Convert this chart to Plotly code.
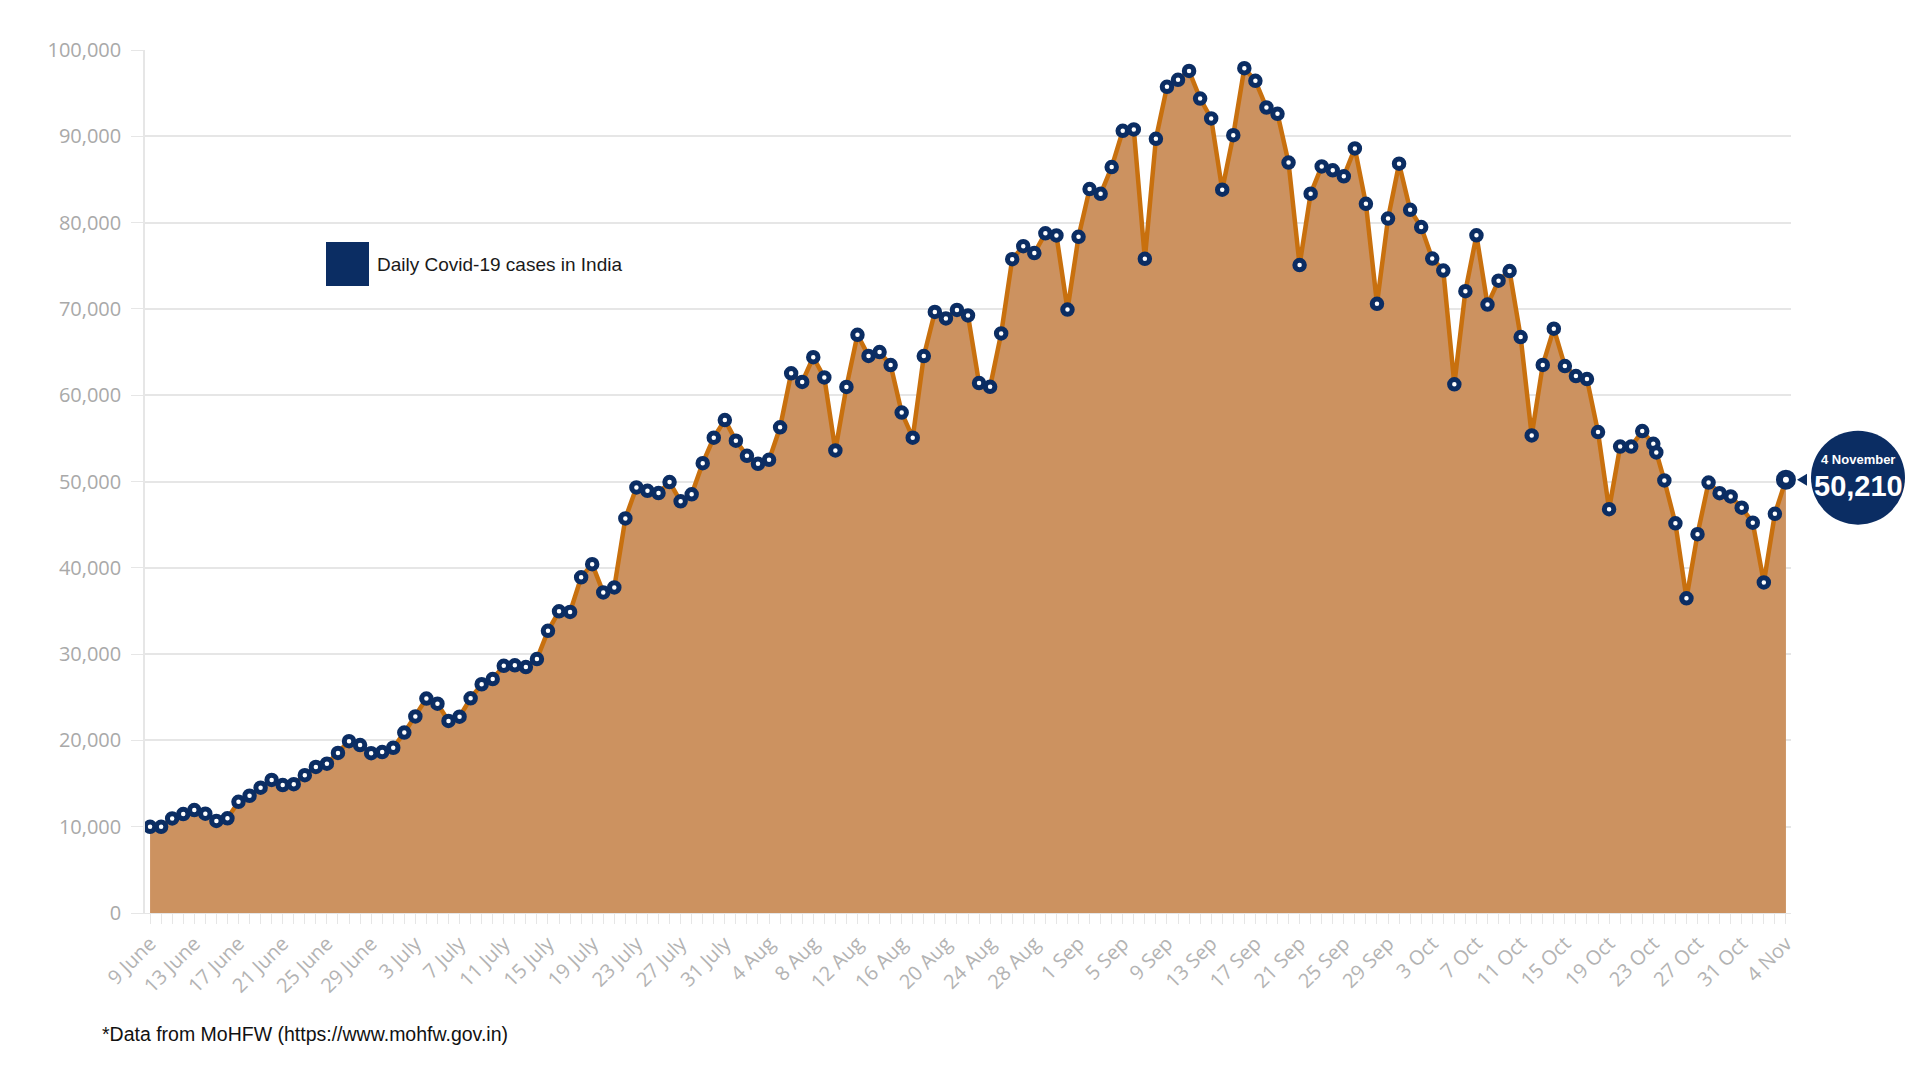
import pandas as pd
import plotly.graph_objects as go

# ---------------- data ----------------
start_date = "2020-06-09"
end_date = "2020-11-04"

daily_cases = [
    9987, 9985, 10956, 11458, 11929, 11502, 10667, 10974, 12881, 13586,
    14516, 15413, 14821, 14933, 15968, 16922, 17296, 18552, 19906, 19459,
    18522, 18653, 19148, 20903, 22771, 24850, 24248, 22252, 22752, 24879,
    26506, 27114, 28637, 28701, 28498, 29429, 32695, 34956, 34884, 38902,
    40425, 37148, 37724, 45720, 49310, 48916, 48661, 49931, 47703, 48513,
    52123, 55079, 57118, 54735, 52972, 52050, 52509, 56282, 62538, 61537,
    64399, 62064, 53601, 60963, 66999, 64553, 65002, 63490, 57981, 55079,
    64531, 69652, 68898, 69878, 69239, 61408, 60975, 67151, 75760, 77266,
    76472, 78761, 78512, 69921, 78357, 83883, 83341, 86432, 90632, 90802,
    75809, 89706, 95735, 96551, 97570, 94372, 92071, 83809, 90123, 97894,
    96424, 93337, 92605, 86961, 75083, 83347, 86508, 86052, 85362, 88600,
    82170, 70589, 80472, 86821, 81484, 79476, 75829, 74442, 61267, 72049,
    78524, 70496, 73272, 74383, 66732, 55342, 63509, 67708, 63371, 62212,
    61871, 55722, 46790, 54044, 54044, 55839, 54366, 53370, 50129, 45149,
    36470, 43893, 49881, 48648, 48268, 46963, 45231, 38310, 46254, 50210,
]
# the source plots two readings on 23 Oct; the second one sits just after the first
extra_reading_index = 137
extra_reading_time = "2020-10-23 06:30"

tick_labels = [
    "9 June", "13 June", "17 June", "21 June", "25 June", "29 June",
    "3 July", "7 July", "11 July", "15 July", "19 July", "23 July", "27 July", "31 July",
    "4 Aug", "8 Aug", "12 Aug", "16 Aug", "20 Aug", "24 Aug", "28 Aug",
    "1 Sep", "5 Sep", "9 Sep", "13 Sep", "17 Sep", "21 Sep", "25 Sep", "29 Sep",
    "3 Oct", "7 Oct", "11 Oct", "15 Oct", "19 Oct", "23 Oct", "27 Oct", "31 Oct", "4 Nov",
]
series_name = "Daily Covid-19 cases in India"
source_note = "*Data from MoHFW (https://www.mohfw.gov.in)"
y_max = 100000
y_step = 10000

# ---------------- build ----------------
dates = list(pd.date_range(start_date, end_date, freq="D"))
dates.insert(extra_reading_index, pd.Timestamp(extra_reading_time))
tick_vals = list(pd.date_range(start_date, end_date, freq="4D"))

NAVY = "#0B2D63"
FILL = "#CC9260"
LINE = "#C8700E"
GRID = "#E6E6E6"
TICKC = "#A9A9A9"

W, H = 1920, 1080
ML, MR, MT, MB = 145, 129, 50, 167
plot_w = W - ML - MR
plot_h = H - MT - MB

def px_x(px):
    return (px - ML) / plot_w

def px_y(py):
    return (H - MB - py) / plot_h

fig = go.Figure()
fig.add_trace(go.Scatter(
    x=dates, y=daily_cases,
    mode="lines+markers",
    fill="tozeroy",
    fillcolor=FILL,
    line=dict(color=LINE, width=4.5),
    marker=dict(size=9.5, color="white", line=dict(color=NAVY, width=5)),
    showlegend=False,
    name=series_name,
    hoverinfo="skip",
))
# highlighted latest reading
fig.add_trace(go.Scatter(
    x=[dates[-1]], y=[daily_cases[-1]],
    mode="markers",
    marker=dict(size=13, color="white", line=dict(color=NAVY, width=7)),
    showlegend=False,
    hoverinfo="skip",
    cliponaxis=False,
))

pad = pd.Timedelta(hours=11)
fig.update_xaxes(
    type="date",
    range=[dates[0] - pad, dates[-1] + pad],
    tickvals=tick_vals,
    ticktext=tick_labels,
    tickangle=-45,
    tickfont=dict(family="Open Sans", size=20, color="#B3B3B3"),
    ticks="outside", ticklen=10, tickcolor=GRID, tickwidth=1,
    minor=dict(dtick=86400000, ticks="outside", ticklen=10, tickcolor=GRID, showgrid=False),
    showgrid=False,
    showline=True, linecolor=GRID,
    zeroline=False,
)
fig.update_yaxes(
    range=[0, y_max],
    dtick=y_step,
    tick0=0,
    tickformat=",",
    tickfont=dict(family="Open Sans", size=20, color=TICKC),
    showgrid=True, gridcolor=GRID, gridwidth=1.5,
    ticks="outside", ticklen=12, tickcolor=GRID,
    ticklabelstandoff=6,
    showline=True, linecolor=GRID, linewidth=1.5,
    zeroline=False,
)

shapes = [
    # legend swatch
    dict(type="rect", xref="paper", yref="paper",
         x0=px_x(326), x1=px_x(369), y0=px_y(286), y1=px_y(242),
         fillcolor=NAVY, line=dict(width=0)),
    # value bubble
    dict(type="circle", xref="paper", yref="y",
         xsizemode="pixel", ysizemode="pixel",
         xanchor=1, yanchor=daily_cases[-1],
         x0=20, x1=114, y0=-45, y1=49,
         fillcolor=NAVY, line=dict(width=0)),
    # pointer
    dict(type="path", xref="paper", yref="y",
         xsizemode="pixel", ysizemode="pixel",
         xanchor=1, yanchor=daily_cases[-1],
         path="M 6,0 L 16,6 L 16,-6 Z",
         fillcolor=NAVY, line=dict(width=0)),
]

last_date = dates[-1]
annotations = [
    dict(text=series_name, xref="paper", yref="paper",
         x=px_x(375), y=px_y(264), xanchor="left", yanchor="middle",
         showarrow=False, font=dict(family="Liberation Sans", size=19, color="#1A1A1A")),
    dict(text=source_note, xref="paper", yref="paper",
         x=px_x(100), y=px_y(1034), xanchor="left", yanchor="middle",
         showarrow=False, font=dict(family="Liberation Sans", size=19.5, color="#111111")),
    dict(text=f"<b>{last_date.day} {last_date.strftime('%B')}</b>", xref="paper", yref="y",
         x=1, y=daily_cases[-1], xshift=67, yshift=20, xanchor="center", yanchor="middle",
         showarrow=False, font=dict(family="Liberation Sans", size=13, color="white")),
    dict(text=f"<b>{daily_cases[-1]:,}</b>", xref="paper", yref="y",
         x=1, y=daily_cases[-1], xshift=67, yshift=-6, xanchor="center", yanchor="middle",
         showarrow=False, font=dict(family="Liberation Sans", size=29, color="white")),
]

fig.update_layout(
    width=W, height=H,
    margin=dict(l=ML, r=MR, t=MT, b=MB),
    paper_bgcolor="white", plot_bgcolor="white",
    shapes=shapes,
    annotations=annotations,
    showlegend=False,
)

fig.write_html("out.html", config={"displayModeBar": False},
               post_script="document.body.style.margin='0';")
